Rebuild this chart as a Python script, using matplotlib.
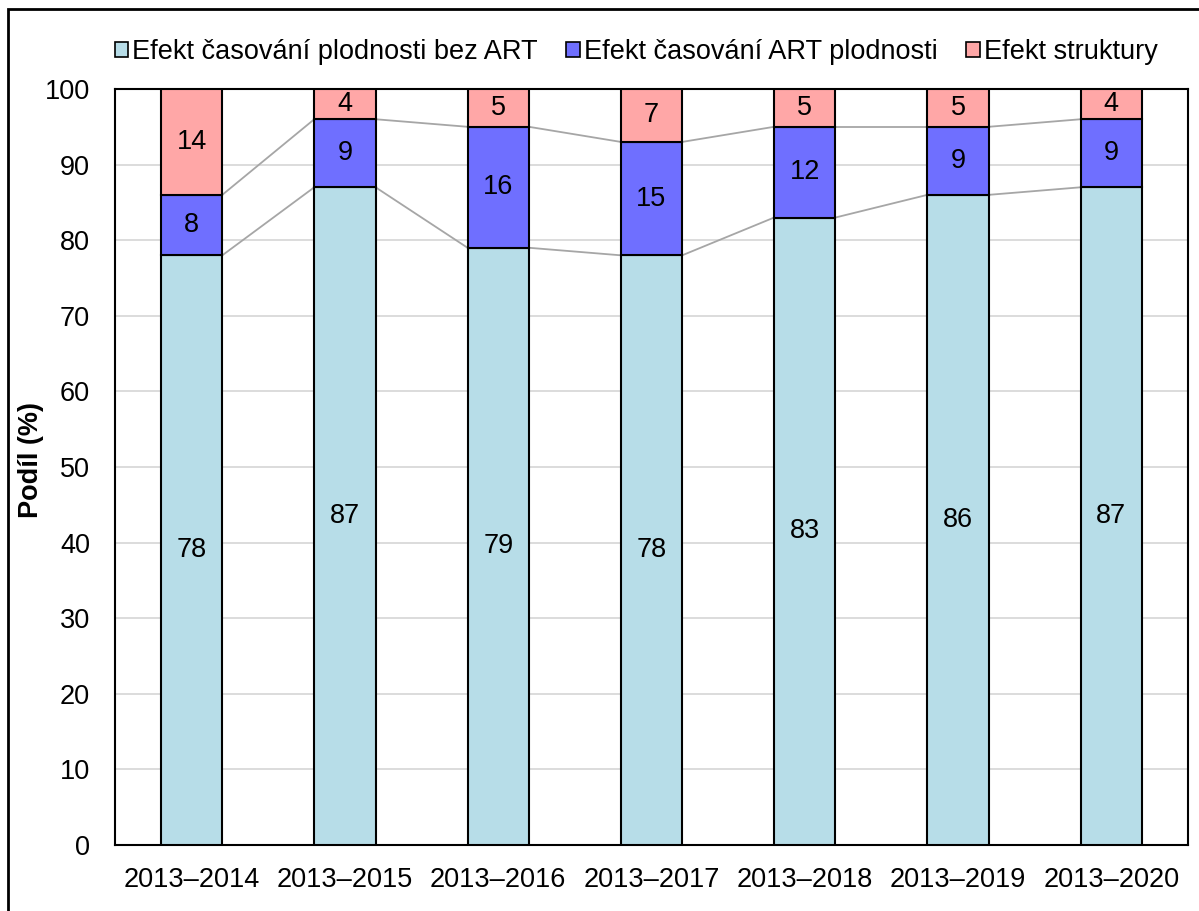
import matplotlib
matplotlib.use("Agg")
import matplotlib.pyplot as plt
from matplotlib.patches import Rectangle
import numpy as np

categories = ["2013–2014", "2013–2015", "2013–2016", "2013–2017", "2013–2018", "2013–2019", "2013–2020"]
s_bez_art = [78, 87, 79, 78, 83, 86, 87]
s_art = [8, 9, 16, 15, 12, 9, 9]
s_struktura = [14, 4, 5, 7, 5, 5, 4]
series_names = ["Efekt časování plodnosti bez ART", "Efekt časování ART plodnosti", "Efekt struktury"]
colors = ["#B7DDE8", "#6F6FFF", "#FFA7A7"]

plt.rcParams['font.family'] = ['Liberation Sans', 'DejaVu Sans']
FS = 19.5
W, H = 1199, 911
fig = plt.figure(figsize=(W/100, H/100), dpi=100)
ax = fig.add_axes([115/W, 1-845/H, (1188-115)/W, (845-89)/H])

x = np.arange(len(categories))
bw = 0.4
series = [s_bez_art, s_art, s_struktura]
bottom = np.zeros(len(categories))
for vals, c, name in zip(series, colors, series_names):
    vals = np.array(vals, dtype=float)
    ax.bar(x, vals, bw, bottom=bottom, color=c, edgecolor="black", linewidth=1.5, label=name, zorder=3)
    for xi, b, v in zip(x, bottom, vals):
        ax.text(xi, b + v/2, f"{int(v)}", ha="center", va="center", fontsize=FS, zorder=4)
    top = bottom + vals
    for i in range(len(x)-1):
        ax.plot([x[i]+bw/2, x[i+1]-bw/2], [top[i], top[i+1]], color="#A6A6A6", lw=1.3, zorder=2)
    bottom = top

ax.set_xlim(-0.5, len(categories)-0.5)
ax.set_ylim(0, 100)
ax.set_yticks(range(0, 101, 10))
ax.set_xticks(x)
ax.set_xticklabels(categories)
ax.tick_params(axis="both", length=0, labelsize=FS)
ax.tick_params(axis="x", pad=16)
ax.tick_params(axis="y", pad=18)
ax.yaxis.grid(True, color="#D9D9D9", lw=1.3, zorder=0)
for sp in ax.spines.values():
    sp.set_color("black")
    sp.set_linewidth(1.5)
ax.set_ylabel("Podíl (%)", fontsize=FS, fontweight="bold")
ax.yaxis.set_label_coords((44-115)/1073, (845-460)/756)

leg = ax.legend(loc="center", bbox_to_anchor=((636-115)/1073, 1 + (89-52)/756), ncol=3, frameon=False,
                fontsize=FS, handlelength=0.5, handleheight=0.5, handletextpad=0.15,
                columnspacing=1.05, borderaxespad=0)
for h in leg.legend_handles:
    h.set_linewidth(1.2)

fig.patches.append(Rectangle((8/W, 1-920/H), (1210-8)/W, (920-9)/H, transform=fig.transFigure,
                             fill=False, edgecolor="black", lw=2))
fig.savefig("out.png", dpi=100)
